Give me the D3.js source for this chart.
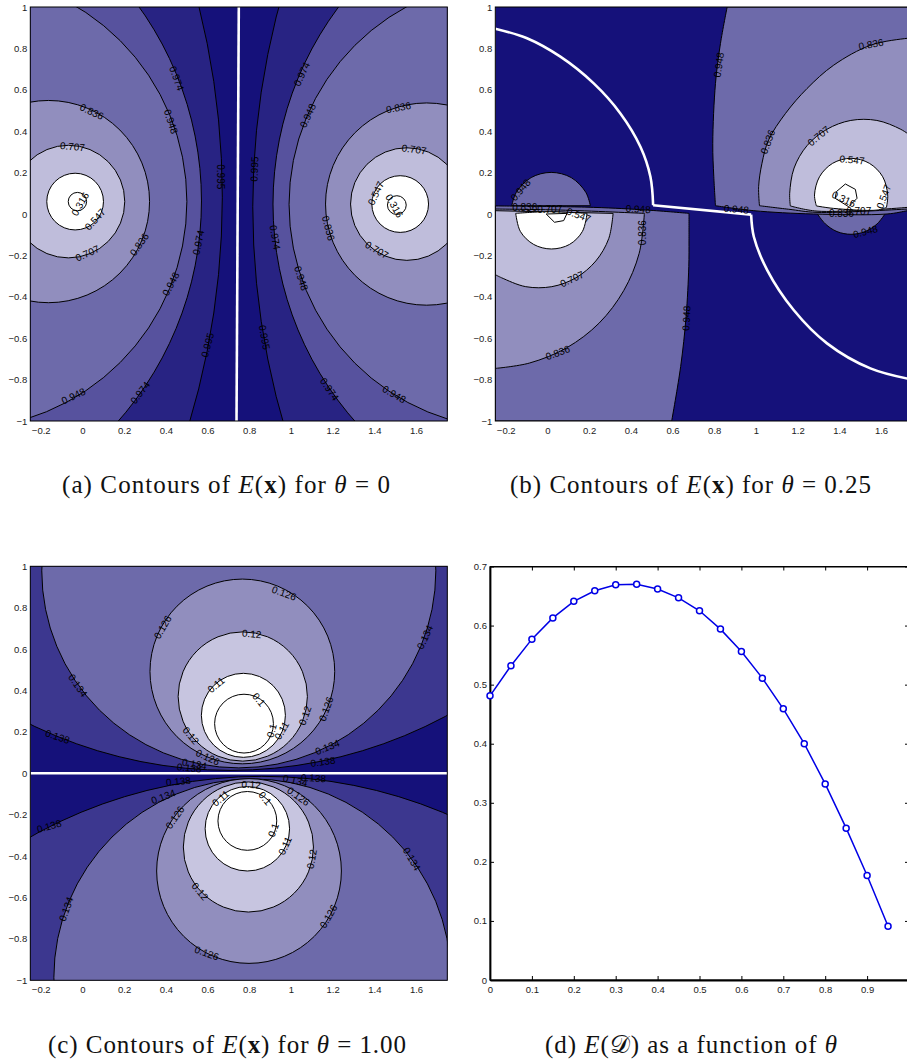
<!DOCTYPE html>
<html>
<head>
<meta charset="utf-8">
<title>Contours of E(x)</title>
<script src="https://cdn.jsdelivr.net/npm/d3@7"></script>
<style>
  html, body { margin: 0; padding: 0; background: #fff; overflow: hidden; }
  text { font-family: "Liberation Sans", Arial, sans-serif; }
  .caption { font-family: "Liberation Serif", serif; font-size: 25px; fill: #111; }
</style>
</head>
<body>
<div id="chart"></div>
<script>
// Shared axis ticks
const contourXTicks = [-0.2, 0, 0.2, 0.4, 0.6, 0.8, 1, 1.2, 1.4, 1.6];
const contourYTicks = [-1, -0.8, -0.6, -0.4, -0.2, 0, 0.2, 0.4, 0.6, 0.8, 1];
const thetaTicks = [0, 0.1, 0.2, 0.3, 0.4, 0.5, 0.6, 0.7, 0.8, 0.9];
const errorTicks = [0, 0.1, 0.2, 0.3, 0.4, 0.5, 0.6, 0.7];

// Band colours, darkest to lightest
const bandNavy = "#15117a", bandDeep = "#282383", bandIndigo = "#3c378f", bandSlate = "#57529e";
const bandMid = "#6d6aaa", bandSoft = "#918ebe", bandPale = "#bfbddb", bandPaler = "#c7c5e0", bandWhite = "#ffffff";

// Panel (a), theta = 0. Contours are round: [cx, cy, r], outermost first
const aCirclesLeft = [[-3.113, 0.081, 3.784], [-1.026, 0.063, 1.597], [-0.59, 0.06, 1.091], [-0.163, 0.06, 0.485], [-0.067, 0.06, 0.27], [-0.035, 0.06, 0.136], [-0.024, 0.06, 0.044]];
const aCirclesRight = [[4.561, 0.035, 3.744], [2.492, 0.048, 1.578], [2.069, 0.047, 1.078], [1.651, 0.048, 0.485], [1.556, 0.048, 0.27], [1.524, 0.048, 0.136], [1.508, 0.043, 0.045]];
const aBoundary = [[0.75, 1], [0.739, -1]];
const aLabels = [
  ["0.974", 0.452, 0.655, 70], ["0.948", 0.424, 0.446, 72], ["0.995", 0.66, 0.18, 90], ["0.974", 0.556, -0.138, -78],
  ["0.948", 0.424, -0.338, -62], ["0.995", 0.6, -0.633, -75], ["0.974", 0.277, -0.863, -52], ["0.948", -0.043, -0.879, -25],
  ["0.836", 0.045, 0.494, 25], ["0.707", -0.048, 0.325, 5], ["0.316", -0.011, 0.048, -60], ["0.547", 0.061, -0.026, -48],
  ["0.707", 0.024, -0.19, -25], ["0.836", 0.273, -0.147, -55],
  ["0.974", 1.052, 0.676, -65], ["0.948", 1.081, 0.475, -65], ["0.995", 0.825, 0.217, -88], ["0.974", 0.924, -0.113, 80],
  ["0.836", 1.18, -0.069, 75], ["0.948", 1.049, -0.311, 72], ["0.995", 0.873, -0.596, 80], ["0.974", 1.185, -0.847, 55],
  ["0.948", 1.495, -0.871, 30], ["0.836", 1.516, 0.514, -10], ["0.707", 1.591, 0.312, 8], ["0.547", 1.407, 0.1, -65],
  ["0.316", 1.496, 0.039, 60], ["0.707", 1.412, -0.174, 30]
];

// Panel (b), theta = 0.25
const bDiscUpper = [[-0.171, 0.04], [-0.149, 0.105], [-0.078, 0.176], [0.018, 0.201], [0.114, 0.176], [0.184, 0.105], [0.206, 0.04]];
const bDiscLower = [[1.293, 0.003], [1.333, -0.048], [1.389, -0.085], [1.456, -0.098], [1.523, -0.085], [1.581, -0.048], [1.621, 0.003]];
const b948LeftTop = [[-0.25, 0.039], [0.222, 0.032], [0.478, 0.019], [0.679, 0.003]];
const b948LeftSide = [[0.679, 0.003], [0.679, -0.126], [0.678, -0.254], [0.665, -0.496], [0.639, -0.737], [0.596, -1]];
const b948LeftFoot = [[0.596, -1], [-0.25, -1]];
const b836LeftTop = [[-0.25, 0.024], [0.062, 0.019], [0.465, 0.003]];
const b836LeftSide = [[0.465, 0.003], [0.44, -0.19], [0.366, -0.37], [0.248, -0.527], [0.093, -0.646], [-0.086, -0.72], [-0.25, -0.746]];
const b707LeftTop = [[-0.25, 0.016], [0.315, 0.003]];
const b707LeftSide = [[0.315, 0.003], [0.294, -0.119], [0.232, -0.227], [0.137, -0.308], [0.021, -0.351], [-0.104, -0.351], [-0.22, -0.308], [-0.25, -0.293]];
const b547LeftTop = [[-0.152, 0.003], [-0.002, 0.011], [0.19, 0.003]];
const b547LeftSide = [[0.19, 0.003], [0.168, -0.084], [0.106, -0.147], [0.019, -0.169], [-0.066, -0.147], [-0.13, -0.084], [-0.152, 0.003]];
const b316Left = [[-0.006, 0], [0.034, -0.04], [0.078, -0.032], [0.094, 0.003]];
const b948RightSide = [[0.862, 1], [0.83, 0.824], [0.806, 0.631], [0.793, 0.341], [0.798, 0.18], [0.806, 0.04]];
const b948RightBase = [[0.806, 0.04], [0.99, 0.016], [1.277, 0], [1.629, 0], [1.727, 0.016], [1.75, 0.02]];
const b948RightEdge = [[1.75, 0.02], [1.75, 1]];
const b836RightSide = [[1.017, 0.04], [1.013, 0.132], [1.029, 0.245], [1.061, 0.358], [1.142, 0.486], [1.245, 0.606], [1.373, 0.719], [1.552, 0.816], [1.727, 0.849], [1.75, 0.851]];
const b836RightBase = [[1.75, 0.025], [1.727, 0.024], [1.293, 0.008], [1.157, 0.023], [1.017, 0.04]];
const b707RightSide = [[1.165, 0.039], [1.162, 0.1], [1.183, 0.222], [1.245, 0.33], [1.34, 0.409], [1.455, 0.452], [1.58, 0.452], [1.695, 0.409], [1.75, 0.372]];
const b707RightBase = [[1.75, 0.035], [1.727, 0.032], [1.293, 0.014], [1.165, 0.039]];
const b547RightTop = [[1.29, 0.039], [1.281, 0.092], [1.305, 0.18], [1.368, 0.245], [1.456, 0.269], [1.544, 0.245], [1.608, 0.18], [1.632, 0.092], [1.626, 0.032]];
const b547RightBase = [[1.626, 0.032], [1.581, 0.019], [1.373, 0.027], [1.29, 0.039]];
const b316Right = [[1.386, 0.108], [1.429, 0.145], [1.477, 0.119], [1.485, 0.076], [1.445, 0.035], [1.38, 0.076]];
const bBoundaryUpper = [[-0.25, 0.895], [-0.098, 0.849], [0.062, 0.76], [0.222, 0.631], [0.35, 0.486], [0.446, 0.325], [0.494, 0.18], [0.507, 0.042]];
const bBoundaryStep = [[0.507, 0.042], [0.977, -0.003]];
const bBoundaryLower = [[0.977, -0.003], [0.99, -0.11], [1.054, -0.271], [1.181, -0.464], [1.341, -0.625], [1.549, -0.746], [1.75, -0.8]];
const bLabels = [
  ["0.948", 0.822, 0.72, -82], ["0.836", 1.552, 0.82, -10], ["0.836", 1.057, 0.349, -70], ["0.707", 1.301, 0.377, -40],
  ["0.547", 1.461, 0.261, 5], ["0.316", 1.421, 0.072, 25], ["0.547", 1.613, 0.084, -70], ["0.948", 0.906, 0.023, 5],
  ["0.836", 1.41, 0.003, 0], ["0.707", 1.493, 0.014, 0], ["0.948", 1.525, -0.085, -15], ["0.948", -0.129, 0.116, -50],
  ["0.836", -0.109, 0.029, 0], ["0.707", 0.011, 0.024, 0], ["0.547", 0.15, -0.005, 20], ["0.948", 0.435, 0.024, 3],
  ["0.836", 0.457, -0.09, -90], ["0.707", 0.118, -0.314, -25], ["0.836", 0.05, -0.67, -20], ["0.948", 0.667, -0.504, -87]
];

// Panel (c), theta = 1.00. [cx, cy, r], outermost first
const cCirclesUpper = [[0.708, 2.219, 2.189], [0.75, 0.978, 0.945], [0.767, 0.492, 0.443], [0.769, 0.371, 0.31], [0.772, 0.28, 0.2015], [0.775, 0.24, 0.141]];
const cCirclesLower = [[0.86, -2.295, 2.264], [0.815, -0.986, 0.952], [0.799, -0.472, 0.443], [0.796, -0.356, 0.312], [0.791, -0.268, 0.2025], [0.791, -0.23, 0.141]];
const cBoundary = [[-0.25, 0], [1.75, 0]];
const cLabels = [
  ["0.126", 0.967, 0.87, 20], ["0.126", 0.385, 0.706, -60], ["0.12", 0.812, 0.674, 5], ["0.134", 1.643, 0.658, -65],
  ["0.134", -0.022, 0.424, 55], ["0.11", 0.641, 0.427, -40], ["0.1", 0.846, 0.356, 50], ["0.138", -0.12, 0.177, 18],
  ["0.12", 1.068, 0.279, -70], ["0.126", 1.169, 0.311, -70], ["0.1", 0.908, 0.206, -75], ["0.11", 0.956, 0.206, -60],
  ["0.12", 0.52, 0.182, 50], ["0.134", 1.175, 0.126, -22], ["0.126", 0.601, 0.077, 25], ["0.138", 1.153, 0.056, -8],
  ["0.134", 0.537, 0.045, 10], ["0.138", 0.512, 0.026, 5],
  ["0.138", 0.46, -0.039, -5], ["0.134", 0.388, -0.113, -20], ["0.126", 0.444, -0.213, -55], ["0.11", 0.663, -0.121, -40],
  ["0.12", 0.809, -0.055, 3], ["0.1", 0.876, -0.121, 50], ["0.134", 1.02, -0.035, 12], ["0.138", 1.108, -0.023, 3],
  ["0.126", 1.036, -0.111, 35], ["0.138", -0.16, -0.256, -15], ["0.1", 0.916, -0.274, -70], ["0.11", 0.972, -0.35, -65],
  ["0.12", 1.1, -0.414, -80], ["0.134", 1.58, -0.414, 60], ["0.12", 0.564, -0.571, 50], ["0.134", -0.078, -0.656, -70],
  ["0.126", 1.18, -0.691, -60], ["0.126", 0.596, -0.869, 20]
];

// Panel (d), E(D) against theta
const thetaValues = [0, 0.05, 0.1, 0.15, 0.2, 0.25, 0.3, 0.35, 0.4, 0.45, 0.5, 0.55, 0.6, 0.65, 0.7, 0.75, 0.8, 0.85, 0.9, 0.95];
const errorValues = [0.481, 0.532, 0.577, 0.613, 0.641, 0.659, 0.669, 0.670, 0.662, 0.647, 0.625, 0.594, 0.556, 0.511, 0.459, 0.400, 0.332, 0.257, 0.177, 0.091];

const width = 907, height = 1061;
const svg = d3.select("#chart").append("svg")
  .attr("width", width)
  .attr("height", height)
  .style("display", "block");

/**
 * Draws one contour panel. Items of `paint` go on in order, darkest band first:
 * { fill, segs } is a closed shape made of smooth segments, { fill, circle } is a round contour,
 * { fill, poly } is a small straight-edged contour.
 */
function drawContourPanel(id, box, paint, labels, boundary) {
  const x = d3.scaleLinear().domain([-0.25, 1.75]).range([box.left, box.left + 417]);
  const y = d3.scaleLinear().domain([-1, 1]).range([box.top + 414, box.top]);

  const smooth = d3.line().x(d => x(d[0])).y(d => y(d[1])).curve(d3.curveCatmullRom.alpha(0.5));
  const straight = d3.line().x(d => x(d[0])).y(d => y(d[1]));
  const joined = segs => segs.map(s => smooth(s)).join("").replace(/M/g, "L").replace("L", "M");

  svg.append("clipPath").attr("id", id)
    .append("rect")
    .attr("x", box.left).attr("y", box.top)
    .attr("width", 417).attr("height", 414);

  const g = svg.append("g").attr("clip-path", `url(#${id})`);
  g.append("rect")
    .attr("x", box.left).attr("y", box.top)
    .attr("width", 417).attr("height", 414)
    .attr("fill", bandNavy);

  paint.forEach(p => {
    if (p.circle) {
      g.append("circle")
        .attr("cx", x(p.circle[0]))
        .attr("cy", y(p.circle[1]))
        .attr("r", x(p.circle[2]) - x(0))
        .attr("fill", p.fill).attr("stroke", "#000").attr("stroke-width", 1);
    } else {
      g.append("path")
        .attr("d", p.poly ? straight(p.poly) + "Z" : joined(p.segs) + "Z")
        .attr("fill", p.fill).attr("stroke", "#000").attr("stroke-width", 1);
    }
  });

  boundary.forEach(seg => {
    g.append("path")
      .attr("d", smooth(seg))
      .attr("fill", "none").attr("stroke", "#fff").attr("stroke-width", 2.6);
  });

  g.selectAll("text.level").data(labels).join("text")
    .attr("class", "level")
    .attr("transform", d => `translate(${x(d[1])},${y(d[2])}) rotate(${d[3]})`)
    .attr("text-anchor", "middle")
    .attr("dy", "0.35em")
    .attr("font-size", 10)
    .attr("fill", "#000")
    .text(d => d[0]);

  svg.append("rect")
    .attr("x", box.left).attr("y", box.top)
    .attr("width", 417).attr("height", 414)
    .attr("fill", "none").attr("stroke", "#000").attr("stroke-width", 1);

  const tickFormat = d3.format("~g");
  const xAxis = svg.append("g")
    .attr("transform", `translate(0,${box.top + 414})`)
    .call(d3.axisBottom(x).tickValues(contourXTicks).tickFormat(tickFormat).tickSize(0).tickPadding(6));
  const yAxis = svg.append("g")
    .attr("transform", `translate(${box.left},0)`)
    .call(d3.axisLeft(y).tickValues(contourYTicks).tickFormat(tickFormat).tickSize(0).tickPadding(3));
  [xAxis, yAxis].forEach(a => {
    a.select(".domain").remove();
    a.selectAll("text")
      .attr("font-size", 9.5)
      .attr("font-family", "Liberation Sans")
      .attr("fill", "#222");
  });
}

const panelAPaint = [];
[aCirclesLeft, aCirclesRight].forEach(list => {
  [bandDeep, bandSlate, bandMid, bandSoft, bandPale, bandWhite, bandWhite].forEach((fill, i) => panelAPaint.push({ fill, circle: list[i] }));
});

const panelBPaint = [
  { fill: bandMid, segs: [bDiscUpper] },
  { fill: bandMid, segs: [bDiscLower] },
  { fill: bandMid, segs: [b948LeftTop, b948LeftSide, b948LeftFoot] },
  { fill: bandSoft, segs: [b836LeftTop, b836LeftSide] },
  { fill: bandPale, segs: [b707LeftTop, b707LeftSide] },
  { fill: bandWhite, segs: [b547LeftTop, b547LeftSide] },
  { fill: bandWhite, poly: b316Left },
  { fill: bandMid, segs: [b948RightSide, b948RightBase, b948RightEdge] },
  { fill: bandSoft, segs: [b836RightSide, b836RightBase] },
  { fill: bandPale, segs: [b707RightSide, b707RightBase] },
  { fill: bandWhite, segs: [b547RightTop, b547RightBase] },
  { fill: bandWhite, poly: b316Right }
];

const panelCPaint = [];
[cCirclesUpper, cCirclesLower].forEach(list => {
  [bandIndigo, bandMid, bandSoft, bandPaler, bandWhite, bandWhite].forEach((fill, i) => panelCPaint.push({ fill, circle: list[i] }));
});

drawContourPanel("clip-a", { left: 30.3, top: 7 }, panelAPaint, aLabels, [aBoundary]);
drawContourPanel("clip-b", { left: 495.3, top: 7 }, panelBPaint, bLabels, [bBoundaryUpper, bBoundaryStep, bBoundaryLower]);
drawContourPanel("clip-c", { left: 30.3, top: 566.3 }, panelCPaint, cLabels, [cBoundary]);

/** Line chart of the error against theta, with inward ticks on all four sides. */
function drawErrorPanel() {
  const x = d3.scaleLinear().domain([0, 1]).range([490, 909]);
  const y = d3.scaleLinear().domain([0, 0.7]).range([980, 566.5]);
  const points = thetaValues.map((t, i) => [t, errorValues[i]]);

  svg.append("rect")
    .attr("x", 490).attr("y", 566.5)
    .attr("width", 419).attr("height", 413.5)
    .attr("fill", "none").attr("stroke", "#000").attr("stroke-width", 1);

  const axes = [
    svg.append("g").attr("transform", "translate(0,980)")
      .call(d3.axisBottom(x).tickValues(thetaTicks).tickFormat(d3.format("~g")).tickSizeInner(-4).tickSizeOuter(0).tickPadding(6)),
    svg.append("g").attr("transform", "translate(490,0)")
      .call(d3.axisLeft(y).tickValues(errorTicks).tickFormat(d3.format("~g")).tickSizeInner(-4).tickSizeOuter(0).tickPadding(3)),
    svg.append("g").attr("transform", "translate(0,566.5)")
      .call(d3.axisTop(x).tickValues(thetaTicks).tickFormat("").tickSizeInner(-4).tickSizeOuter(0)),
    svg.append("g").attr("transform", "translate(909,0)")
      .call(d3.axisRight(y).tickValues(errorTicks).tickFormat("").tickSizeInner(-4).tickSizeOuter(0))
  ];
  axes.forEach(a => {
    a.selectAll("text").attr("font-size", 9.5).attr("font-family", "Liberation Sans").attr("fill", "#222");
  });
  axes[0].select(".domain").attr("stroke-width", 1.8);
  axes[1].select(".domain").attr("stroke-width", 1.8);

  svg.append("path")
    .attr("d", d3.line().x(d => x(d[0])).y(d => y(d[1]))(points))
    .attr("fill", "none").attr("stroke", "#0000e6").attr("stroke-width", 1.5);

  svg.selectAll("circle.marker").data(points).join("circle")
    .attr("class", "marker")
    .attr("cx", d => x(d[0]))
    .attr("cy", d => y(d[1]))
    .attr("r", 3)
    .attr("fill", "#fff")
    .attr("stroke", "#0000e6")
    .attr("stroke-width", 1.5);
}
drawErrorPanel();

// Captions: [start x, baseline, text width, runs of text and style]
const captions = [
  [62, 493, 328, [["(a) Contours of "], ["E", "i"], ["("], ["x", "b"], [") for "], ["θ", "i"], [" = 0"]]],
  [510, 493, 361, [["(b) Contours of "], ["E", "i"], ["("], ["x", "b"], [") for "], ["θ", "i"], [" = 0.25"]]],
  [48, 1053, 358, [["(c) Contours of "], ["E", "i"], ["("], ["x", "b"], [") for "], ["θ", "i"], [" = 1.00"]]],
  [545, 1053, 292, [["(d) "], ["E", "i"], ["("], ["𝒟"], [") as a function of "], ["θ", "i"]]]
];

captions.forEach(c => {
  const t = svg.append("text")
    .attr("class", "caption")
    .attr("x", c[0])
    .attr("y", c[1])
    .attr("textLength", c[2])
    .attr("lengthAdjust", "spacing")
    .attr("xml:space", "preserve");
  c[3].forEach(run => {
    t.append("tspan")
      .attr("font-style", run[1] === "i" ? "italic" : null)
      .attr("font-weight", run[1] === "b" ? "bold" : null)
      .text(run[0]);
  });
});
</script>
</body>
</html>
